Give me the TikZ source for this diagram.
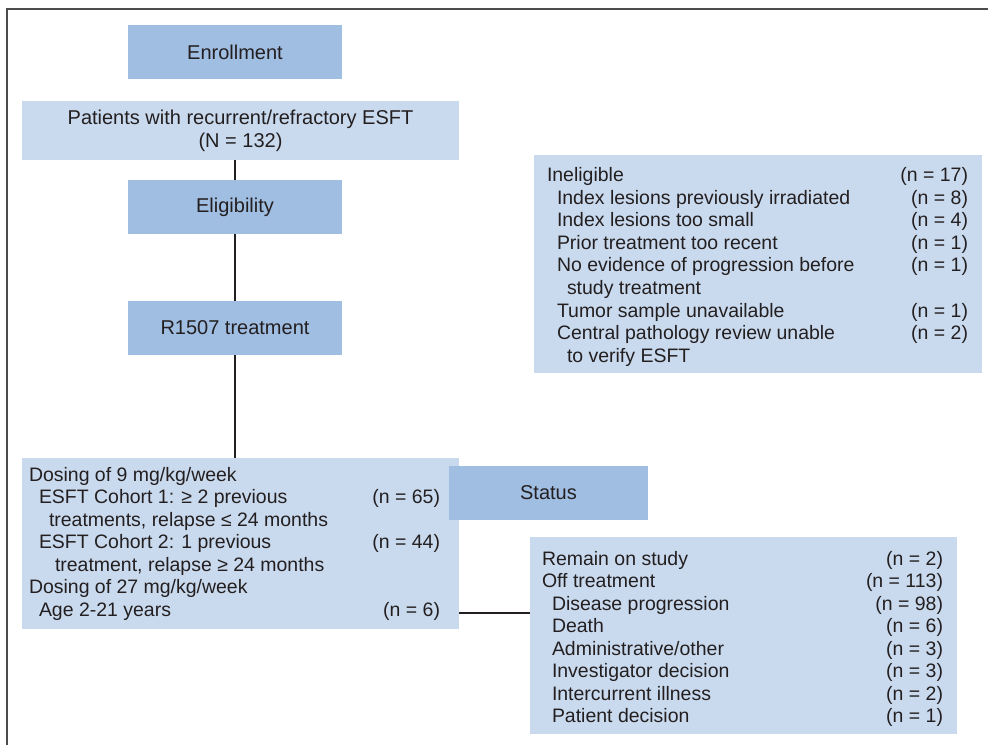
\documentclass[tikz,border=0pt]{standalone}
\usepackage{fontspec}
\setmainfont{Liberation Sans}
\usetikzlibrary{positioning}
\definecolor{boxdark}{RGB}{160,189,226}
\definecolor{boxlight}{RGB}{202,218,238}
\definecolor{ink}{RGB}{35,31,32}
\begin{document}
\begin{tikzpicture}[x=0.75pt,y=-0.75pt,inner sep=0pt,outer sep=0pt,
stage/.style={fill=boxdark,rectangle,minimum width=160.5pt,minimum height=40.5pt,text=ink,font=\fontsize{15}{17.5}\selectfont},
listbox/.style={fill=boxlight,rectangle,text=ink,font=\fontsize{15}{17.5}\selectfont},
row/.style={anchor=base west,text=ink,font=\fontsize{14.6}{16.9}\selectfont},
cnt/.style={anchor=base east,text=ink,font=\fontsize{14.6}{16.9}\selectfont},
link/.style={draw=ink,line width=1.7pt}]
\useasboundingbox (0,0) rectangle (988,745);
% frame
\draw[line width=1.5pt,gray!60!black] (7,745) -- (7,9) -- (988,9);
% main column
\node[stage] (enroll) at (235,52) {Enrollment};
\node[listbox,minimum width=327.75pt,minimum height=44.25pt,align=center] (patients) at (240.5,130.5) {Patients with recurrent/refractory ESFT\\(N = 132)};
\node[stage] (elig) at (235,207) {Eligibility};
\node[stage] (treat) at (235,328) {R1507 treatment};
\node[listbox,minimum width=327.75pt,minimum height=128.25pt] (dosing) at (240.5,543.5) {};
\node[stage,minimum width=149.25pt] (status) at (548.5,493) {Status};
% side boxes
\node[listbox,minimum width=336pt,minimum height=163.5pt] (inelig) at (758,264) {};
\node[listbox,minimum width=320.25pt,minimum height=147.75pt] (statlist) at (743.5,635.5) {};
% ineligible list
\foreach \i/\x/\t in {0/547/{Ineligible},1/557/{Index lesions previously irradiated},2/557/{Index lesions too small},
  3/557/{Prior treatment too recent},4/557/{No evidence of progression before},5/567/{study treatment},
  6/557/{Tumor sample unavailable},7/557/{Central pathology review unable},8/567/{to verify ESFT}}
  \node[row] (inel-\i) at (\x,{182+22.5*\i}) {\t};
\foreach \i/\n in {0/17,1/8,2/4,3/1,4/1,6/1,7/2}
  \node[cnt] (ineln-\i) at (968,{182+22.5*\i}) {(n = \n)};
% dosing list
\foreach \i/\x/\t in {0/29/{Dosing of 9 mg/kg/week},1/39/{ESFT Cohort 1: ≥ 2 previous},2/49/{treatments, relapse ≤ 24 months},
  3/39/{ESFT Cohort 2: 1 previous},4/55/{treatment, relapse ≥ 24 months},5/29/{Dosing of 27 mg/kg/week},6/39/{Age 2-21 years}}
  \node[row] (dose-\i) at (\x,{481+22.5*\i}) {\t};
\foreach \i/\n in {1/65,3/44,6/6}
  \node[cnt] (dosen-\i) at (440,{481+22.5*\i}) {(n = \n)};
% status list
\foreach \i/\x/\t/\n in {0/542/{Remain on study}/2,1/542/{Off treatment}/113,2/552/{Disease progression}/98,
  3/552/{Death}/6,4/552/{Administrative/other}/3,5/552/{Investigator decision}/3,
  6/552/{Intercurrent illness}/2,7/552/{Patient decision}/1}
  {\node[row] (stat-\i) at (\x,{565+22.5*\i}) {\t};
   \node[cnt] (statn-\i) at (943,{565+22.5*\i}) {(n = \n)};}
% connectors
\draw[link] (elig.north) -- (elig.north |- patients.south);
\draw[link] (elig.south) -- (treat.north);
\draw[link] (treat.south) -- (treat.south |- dosing.north);
\coordinate (agerow) at (459,613);
\draw[link] (agerow) -- (agerow -| statlist.west);
\end{tikzpicture}
\end{document}
